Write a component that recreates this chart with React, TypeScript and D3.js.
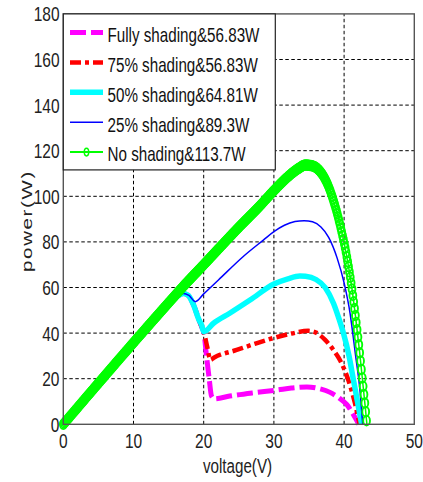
import React, { useEffect, useRef } from 'react';
import * as d3 from 'd3';

const W = 423;
const H = 482;

const xTicks = [0, 10, 20, 30, 40, 50];
const yTicks = [0, 20, 40, 60, 80, 100, 120, 140, 160, 180];
const xLabel = 'voltage(V)';
const yLabel = 'power(W)';

const legendLabels = [
  'Fully shading&56.83W',
  '75% shading&56.83W',
  '50% shading&64.81W',
  '25% shading&89.3W',
  'No shading&113.7W',
];

// Fully shading (magenta, dashed)
const fullV = [0, 5, 10, 15, 16.2, 17.1, 17.8, 18.6, 19.3, 19.8, 20, 20.4, 20.8, 21.1, 21.5, 23.7, 27, 30.4, 32.5, 34.7, 36.5, 38, 39.4, 40.4, 41.5, 42.1];
const fullP = [0, 17.8, 35.5, 52.5, 56, 57.4, 56.5, 52, 46, 42, 40.6, 30, 19.5, 12.5, 11.2, 12.4, 13.8, 15, 15.9, 16.4, 15.6, 14, 11.3, 8.6, 3.3, 0];

// 75% shading (red, dash-dot)
const s75V = [0, 5, 10, 15, 16.2, 17.1, 17.8, 18.6, 19.3, 19.8, 20, 20.5, 20.95, 21.5, 24.7, 27, 30, 32.5, 34.9, 36, 37.3, 38.5, 39.4, 40.6, 41.55, 42.2];
const s75P = [0, 17.8, 35.5, 52.5, 56, 57.4, 56.5, 52, 46, 42, 40.6, 34, 28.3, 29.3, 32.6, 35, 37.9, 39.8, 41, 40.2, 37, 32.5, 28.2, 19.4, 9.2, 0];

// 50% shading (cyan)
const s50V = [0, 5, 10, 15, 16.2, 17.1, 17.8, 18.6, 19.3, 19.7, 20, 21.4, 23.7, 26.6, 30, 32, 33.7, 34.5, 36, 37.3, 38.5, 39.3, 39.9, 40.7, 41.3, 41.9, 42.5];
const s50P = [0, 17.8, 35.5, 52.5, 56, 57.4, 56.5, 52, 46, 43.5, 40.6, 44.3, 48.7, 54.5, 61.5, 63.8, 65, 64.9, 63.5, 60, 53, 46, 40, 30, 20, 10, 0];

// 25% shading (blue)
const s25V = [0, 5, 10, 15, 16.2, 17.1, 17.9, 18.8, 20, 22.1, 25.6, 28.5, 30, 31.5, 33, 34.3, 35.5, 36.7, 37.8, 39, 40, 40.85, 41.6, 42.3, 42.65];
const s25P = [0, 17.8, 35.5, 52.5, 56, 57.4, 56.5, 53.8, 57.2, 63.3, 73.5, 80.8, 84.5, 87.3, 88.9, 89.3, 88.8, 86.5, 82, 73, 62, 48.7, 31, 13.6, 0];

// No shading (green, circle markers)
const noV = [0, 5, 10, 15, 17, 20, 22, 25, 28, 30, 32, 33.5, 34.5, 35.5, 36.5, 37.5, 38.5, 39.5, 40.3, 41, 41.6, 42.2, 42.7, 43.0, 43.25];
const noP = [0, 18, 35.8, 53.3, 60.2, 70, 76.6, 86.4, 95.8, 102.5, 108.6, 112.2, 113.7, 113.3, 111.2, 106.3, 98, 86.5, 75, 62, 48, 32, 17, 8, 0];

const FONT = 'Liberation Sans, Arial, sans-serif';

export default function App() {
  const x = d3.scaleLinear().domain([0, 50]).range([63.3, 414.3]);
  const y = d3.scaleLinear().domain([0, 180]).range([424.3, 13.9]);

  const line = (vs: number[], ps: number[], curve: d3.CurveFactory = d3.curveMonotoneX) =>
    d3
      .line<number>()
      .x((_, i) => x(vs[i]))
      .y((_, i) => y(ps[i]))
      .curve(curve)(ps) || '';

  const greenRef = useRef<SVGPathElement>(null);
  const markRef = useRef<SVGGElement>(null);

  useEffect(() => {
    const path = greenRef.current;
    const g = markRef.current;
    if (!path || !g) return;
    const L = path.getTotalLength();
    const stepX = x(0.12) - x(0);
    const pts: [number, number][] = [];
    let lastX = -Infinity;
    for (let s = 0; s <= L; s += 0.25) {
      const p = path.getPointAtLength(s);
      if (p.x - lastX >= stepX) {
        pts.push([p.x, p.y]);
        lastX = p.x;
      }
    }
    d3.select(g)
      .selectAll('ellipse')
      .data(pts)
      .join('ellipse')
      .attr('cx', (d) => d[0])
      .attr('cy', (d) => d[1])
      .attr('rx', 3.4)
      .attr('ry', 4.8)
      .attr('fill', 'none')
      .attr('stroke', '#00ff00')
      .attr('stroke-width', 1.9);
  }, []);

  const [x0, x1] = x.range();
  const [y0, y1] = y.range();

  const legX0 = 63.3;
  const legY0 = 13.9;
  const legW = 212;
  const legH = 156;
  const rowY = (i: number) => 32.5 + i * 29.9;

  const series = [
    { v: fullV, p: fullP, color: '#ff00ff', w: 5, dash: '16 5' },
    { v: s75V, p: s75P, color: '#ff0000', w: 4.5, dash: '11 4 4 4' },
    { v: s50V, p: s50P, color: '#00ffff', w: 5.5, dash: undefined },
    { v: s25V, p: s25P, color: '#0000ff', w: 1.5, dash: undefined },
  ];

  return (
    <svg
      width={W}
      height={H}
      style={{ position: 'absolute', left: 0, top: 0, background: '#fff' }}
      fontFamily={FONT}
    >
      <rect x={0} y={0} width={W} height={H} fill="#fff" />
      {/* grid */}
      <g stroke="#000" strokeWidth={1} strokeDasharray="3.5 2.5">
        {xTicks.slice(1, -1).map((t) => (
          <line key={'gx' + t} x1={x(t)} x2={x(t)} y1={y0} y2={y1} />
        ))}
        {yTicks.slice(1, -1).map((t) => (
          <line key={'gy' + t} x1={x0} x2={x1} y1={y(t)} y2={y(t)} />
        ))}
      </g>
      {/* series */}
      {series.map((s, i) => (
        <path
          key={i}
          d={line(s.v, s.p)}
          fill="none"
          stroke={s.color}
          strokeWidth={s.w}
          strokeDasharray={s.dash}
          strokeLinejoin="round"
        />
      ))}
      <path ref={greenRef} d={line(noV, noP)} fill="none" stroke="#00ff00" strokeWidth={1.5} />
      <g ref={markRef} />
      {/* axes box */}
      <rect x={x0} y={y1} width={x1 - x0} height={y0 - y1} fill="none" stroke="#555" strokeWidth={1.4} />
      {/* legend */}
      <rect x={legX0} y={legY0} width={legW} height={legH} fill="#fff" stroke="#222" strokeWidth={1.2} />
      {legendLabels.map((lab, i) => {
        const cy = rowY(i);
        const s = series[i];
        return (
          <g key={lab}>
            {s ? (
              <line
                x1={70}
                x2={103}
                y1={cy}
                y2={cy}
                stroke={s.color}
                strokeWidth={s.w}
                strokeDasharray={s.dash}
              />
            ) : (
              <g>
                <line x1={70} x2={103} y1={cy} y2={cy} stroke="#00ff00" strokeWidth={2} />
                <ellipse cx={86.5} cy={cy} rx={2.2} ry={3.8} fill="none" stroke="#00ff00" strokeWidth={1.5} />
              </g>
            )}
            <text
              transform={`translate(107.5,${cy + 9.3}) scale(1,1.38)`}
              fontSize={15.2}
              fill="#111"
            >
              {lab}
            </text>
          </g>
        );
      })}
      {/* y tick labels */}
      {yTicks.map((t) => (
        <text
          key={'yt' + t}
          transform={`translate(59.5,${y(t) + 7.5}) scale(1,1.35)`}
          textAnchor="end"
          fontSize={15.5}
          fill="#222"
        >
          {t}
        </text>
      ))}
      {/* x tick labels */}
      {xTicks.map((t) => (
        <text
          key={'xt' + t}
          transform={`translate(${x(t)},${447.5}) scale(1,1.35)`}
          textAnchor="middle"
          fontSize={15.5}
          fill="#222"
        >
          {t}
        </text>
      ))}
      {/* axis labels */}
      <text
        transform={`translate(237.5,473) scale(1,1.35)`}
        textAnchor="middle"
        fontSize={15.2}
        fill="#222"
      >
        {xLabel}
      </text>
      <text
        transform={`translate(31.5,221) rotate(-90) scale(1.35,1)`}
        textAnchor="middle"
        fontSize={15.2}
        letterSpacing={1.2}
        fill="#222"
      >
        {yLabel}
      </text>
    </svg>
  );
}
